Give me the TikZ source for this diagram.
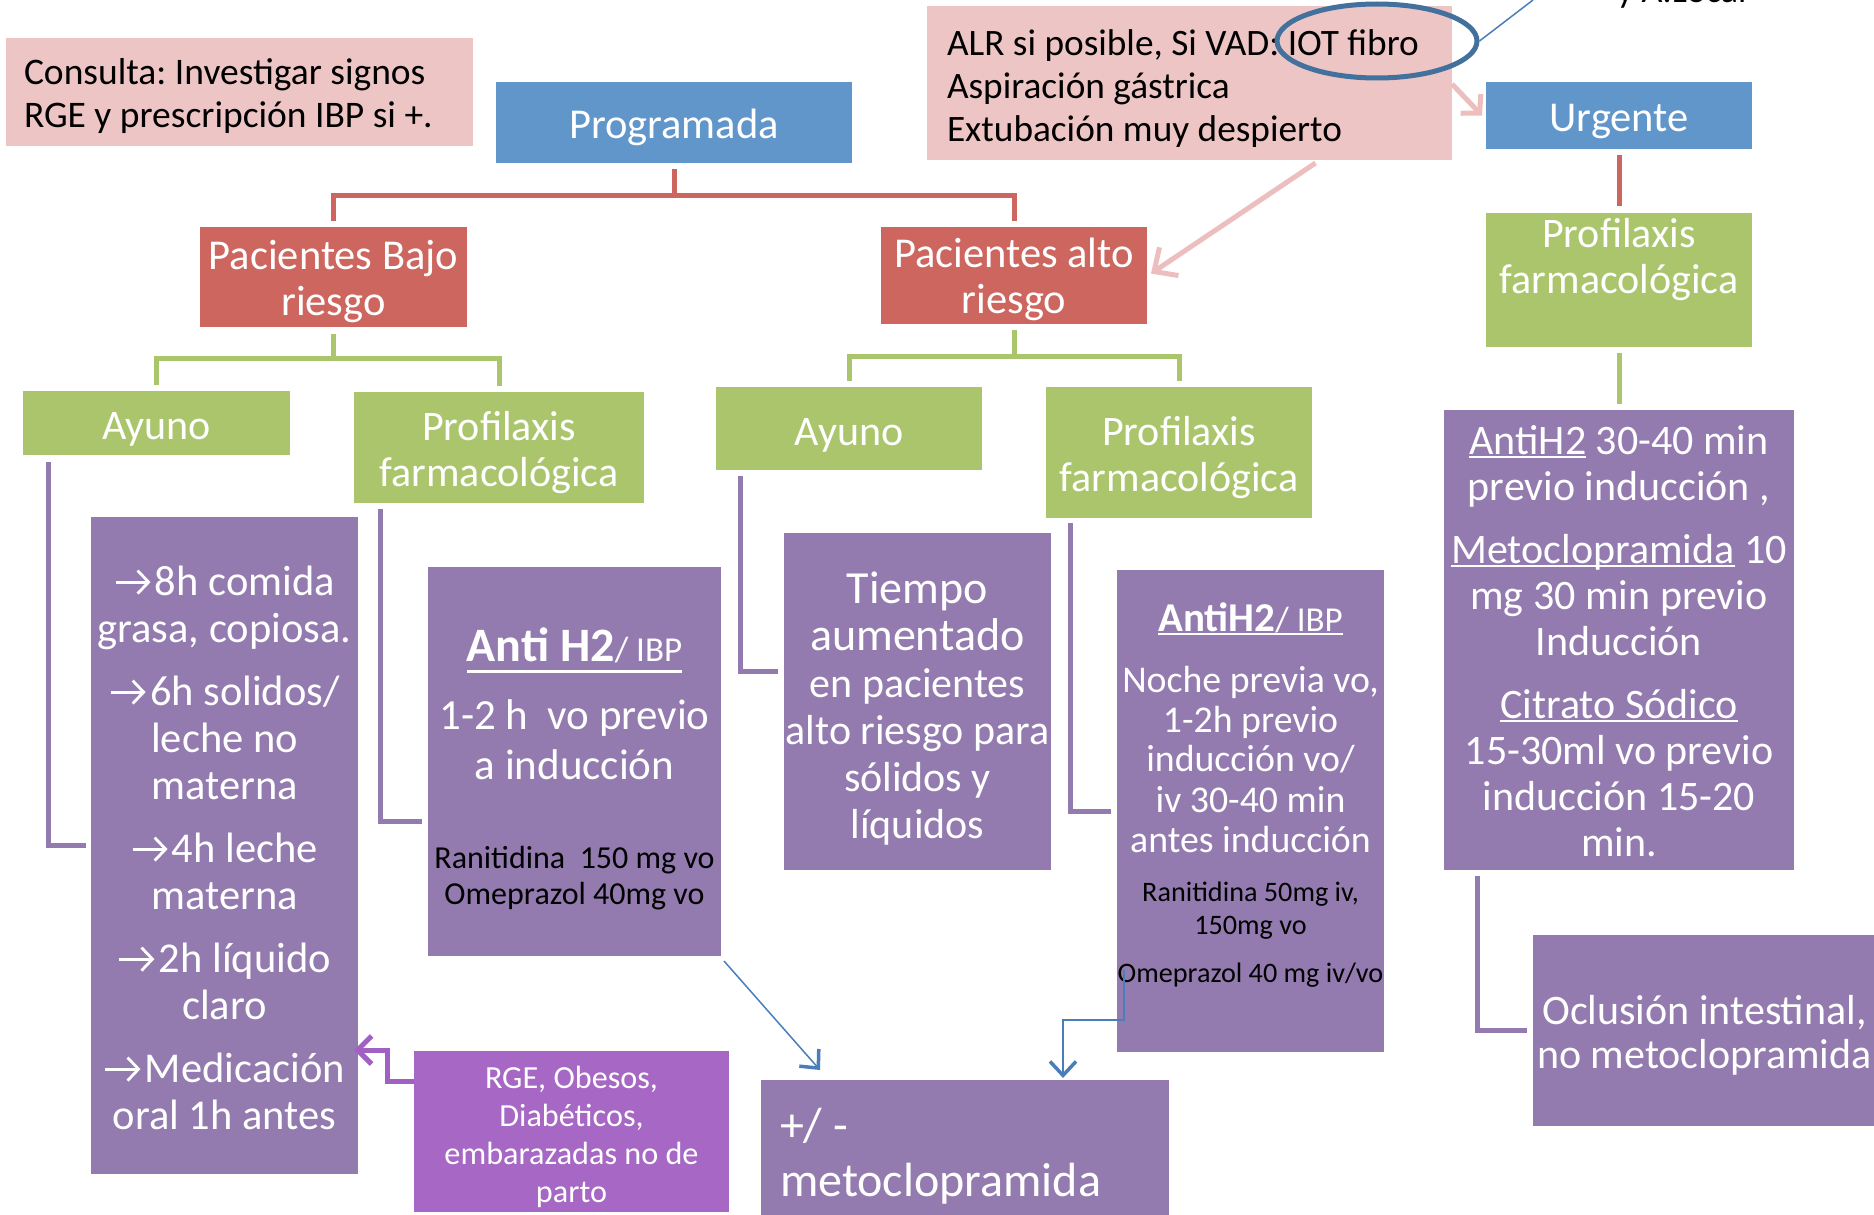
\documentclass[tikz,border=0pt]{standalone}
\usepackage{fontspec}
\setmainfont{Carlito}
\usetikzlibrary{arrows.meta,shapes.geometric}
\definecolor{cblue}{RGB}{97,150,203}
\definecolor{cred}{RGB}{205,102,95}
\definecolor{cgreen}{RGB}{171,197,109}
\definecolor{cpurple}{RGB}{147,123,176}
\definecolor{cviolet}{RGB}{166,104,196}
\definecolor{cpink}{RGB}{237,197,196}
\definecolor{cpinkarrow}{RGB}{236,190,190}
\definecolor{cellipse}{RGB}{65,113,156}
\definecolor{cbline}{RGB}{74,126,187}
\definecolor{cparrow}{RGB}{160,96,196}
\newcommand\fs[2]{\fontsize{#1pt}{#2pt}\selectfont\lineskiplimit=-1000pt\relax}
\newcommand\myul[2][4pt]{\leavevmode\begingroup\sbox0{#2}\rlap{\rule[-#1]{\wd0}{2.2pt}}\usebox0\endgroup}
\newcommand\arr{\leavevmode\tikz[baseline=0pt,x=1pt,y=1pt]\draw[draw=white, line width=2.8pt, -{Straight Barb[length=11pt,width=23pt,line width=2.8pt]}] (0,13) -- (35,13);\hspace{3pt}}
\tikzset{
  box/.style={rectangle, inner sep=0pt, outer sep=0pt},
  txt/.style={inner sep=0pt, outer sep=0pt, text=white, align=flush center},
  rline/.style={draw=cred, line width=5pt},
  gline/.style={draw=cgreen, line width=5pt},
  pline/.style={draw=cpurple, line width=5pt},
  bline/.style={draw=cbline, line width=1.5pt, -{Straight Barb[length=14pt,width=26pt,line width=3.5pt]}},
  pkarrow/.style={draw=cpinkarrow, line width=5pt, -{Straight Barb[length=18pt,width=34pt]}},
  pkarrowsmall/.style={draw=cpinkarrow, line width=5pt, -{Straight Barb[length=13pt,width=28pt]}},
  parrow/.style={draw=cparrow, line width=5pt, -{Straight Barb[length=14pt,width=28pt]}}
}
\begin{document}
\frenchspacing
\begin{tikzpicture}[x=1pt,y=-1pt]
\useasboundingbox (0,0) rectangle (1874,1215);
\clip (0,0) rectangle (1874,1215);
\fill[white] (0,0) rectangle (1874,1215);

% ---------- boxes ----------
\node[box, fill=cpink, minimum width=467pt, minimum height=108pt] (cons) at (239.5,92) {};
\node[box, fill=cblue, minimum width=356pt, minimum height=81pt] (prog) at (674,122.5) {};
\node[box, fill=cblue, minimum width=266pt, minimum height=67pt] (urg) at (1619,115.5) {};
\node[box, fill=cpink, minimum width=525pt, minimum height=154pt] (alr) at (1189.5,83) {};
\node[box, fill=cred, minimum width=267pt, minimum height=100pt] (bajo) at (333.5,277) {};
\node[box, fill=cred, minimum width=266pt, minimum height=97pt] (alto) at (1014,275.5) {};
\node[box, fill=cgreen, minimum width=266pt, minimum height=134pt] (profR) at (1619,280) {};
\node[box, fill=cgreen, minimum width=267pt, minimum height=64pt] (ayunoL) at (156.5,423) {};
\node[box, fill=cgreen, minimum width=290pt, minimum height=111pt] (profL) at (499,447.5) {};
\node[box, fill=cgreen, minimum width=266pt, minimum height=83pt] (ayunoM) at (849,428.5) {};
\node[box, fill=cgreen, minimum width=266pt, minimum height=131pt] (profM) at (1179,452.5) {};
\node[box, fill=cpurple, minimum width=267pt, minimum height=657pt] (lbox) at (224.5,845.5) {};
\node[box, fill=cpurple, minimum width=293pt, minimum height=389pt] (antiL) at (574.5,761.5) {};
\node[box, fill=cpurple, minimum width=267pt, minimum height=337pt] (tiempo) at (917.5,701.5) {};
\node[box, fill=cpurple, minimum width=267pt, minimum height=482pt] (antiM) at (1250.5,811) {};
\node[box, fill=cpurple, minimum width=350pt, minimum height=460pt] (rbox) at (1619,640) {};
\node[box, fill=cpurple, minimum width=343pt, minimum height=191pt] (ocl) at (1704.5,1030.5) {};
\node[box, fill=cpurple, minimum width=408pt, minimum height=145pt] (meto) at (965,1152.5) {};
\node[box, fill=cviolet, minimum width=315pt, minimum height=161pt] (rge) at (571.5,1131.5) {};

% ---------- texts ----------
\node[txt, text=black, text width=431pt, align=flush left, font=\fs{37.5}{43}] (cons-t) at ([yshift=-4pt]cons.center) {Consulta: Investigar signos\\RGE y prescripción IBP si +.};
\node[txt, font=\fs{42.5}{47}] (prog-t) at ([yshift=-5pt]prog.center) {Programada};
\node[txt, font=\fs{42.5}{47}] (urg-t) at ([yshift=-6pt]urg.center) {Urgente};
\node[txt, text=black, text width=485pt, align=flush left, font=\fs{37.3}{43}] (alr-t) at ([yshift=-6pt]alr.center) {ALR si posible, Si VAD: IOT fibro\\Aspiración gástrica\\Extubación muy despierto};
\node[ellipse, draw=cellipse, line width=5pt, minimum width=200pt, minimum height=74pt, inner sep=0pt] (ell) at (1377,41) {};
\coordinate (topc) at (1533,0);
\node[anchor=base west, inner sep=0pt, font=\fs{36}{43}] (cut) at (1617,3) {y A.Local};

\node[txt, font=\fs{42.5}{46}] (bajo-t) at ([yshift=-5pt]bajo.center) {Pacientes Bajo\\riesgo};
\node[txt, font=\fs{42.5}{46}] (alto-t) at ([yshift=-4pt]alto.center) {Pacientes alto\\riesgo};
\node[txt, font=\fs{42}{46}] (profR-t) at ([yshift=20pt]profR.center) {Profilaxis\\farmacológica};

\node[txt, font=\fs{42}{46}] (ayunoL-t) at ([yshift=-6pt]ayunoL.center) {Ayuno};
\node[txt, font=\fs{42}{46}] (profL-t) at ([yshift=-5pt]profL.center) {Profilaxis\\farmacológica};
\node[txt, font=\fs{42}{46}] (ayunoM-t) at ([yshift=-7pt]ayunoM.center) {Ayuno};
\node[txt, font=\fs{42}{46}] (profM-t) at ([yshift=-5pt]profM.center) {Profilaxis\\farmacológica};

\node[txt, text width=280pt, font=\fs{42.5}{47}] (lbox-t) at ([yshift=-2pt]lbox.center)
  {\arr 8h comida\\grasa, copiosa.\\[16pt]
   \arr 6h solidos/\\leche no\\materna\\[16pt]
   \arr 4h leche\\materna\\[16pt]
   \arr 2h líquido\\claro\\[16pt]
   \arr Medicación\\oral 1h antes};

\node[txt, text width=300pt, font=\fs{43}{36}] (antiL-t) at ([yshift=-7.5pt]antiL.center)
  {\myul[11pt]{{\bfseries\fontsize{48pt}{36pt}\selectfont Anti H2}{\fontsize{35pt}{36pt}\selectfont/ IBP}}\\[32pt]
   1-2 h\ \ vo previo\\[14pt]
   a inducción\\[53pt]
   {\color{black}\fontsize{32pt}{36pt}\selectfont Ranitidina\ \ 150 mg vo}\\
   {\color{black}\fontsize{32pt}{36pt}\selectfont Omeprazol 40mg vo}};

\node[txt, text width=290pt, font=\fs{42}{47}] (tiempo-t) at ([yshift=-7.5pt]tiempo.center)
  {{\fontsize{46pt}{47pt}\selectfont Tiempo}\\
   {\fontsize{46pt}{47pt}\selectfont aumentado}\\
   en pacientes\\alto riesgo para\\sólidos y\\líquidos};

\node[txt, text width=295pt, font=\fs{37.8}{33}] (antiM-t) at ([yshift=16pt]antiM.center)
  {\myul{{\bfseries\fontsize{41pt}{33pt}\selectfont AntiH2}{\fontsize{35pt}{33pt}\selectfont/ IBP}}\\[28pt]
   Noche previa vo,\\[7pt]
   1-2h previo\\[6pt]
   inducción vo/\\[8pt]
   iv 30-40 min\\[7pt]
   antes inducción\\[16pt]
   {\color{black}\fontsize{28.2pt}{33pt}\selectfont Ranitidina 50mg iv,}\\
   {\color{black}\fontsize{28.2pt}{33pt}\selectfont 150mg vo}\\[15pt]
   {\color{black}\fontsize{28.2pt}{33pt}\selectfont Omeprazol 40 mg iv/vo}};

\node[txt, text width=360pt, font=\fs{42}{46}] (rbox-t) at ([yshift=-1pt]rbox.center)
  {\myul{AntiH2} 30-40 min\\previo inducción ,\\[17pt]
   \myul{Metoclopramida} 10\\mg 30 min previo\\Inducción\\[17pt]
   \myul{Citrato Sódico}\\15-30ml vo previo\\inducción 15-20\\min.};

\node[txt, text width=360pt, font=\fs{42}{44}] (ocl-t) at ([yshift=-5pt]ocl.center) {Oclusión intestinal,\\no metoclopramida};

\node[txt, text width=370pt, align=flush left, font=\fs{48}{55}] (meto-t) at ([yshift=-4pt]meto.center) {+/ -\\metoclopramida};

\node[txt, text width=330pt, font=\fs{32.2}{38}] (rge-t) at ([yshift=-5pt]rge.center) {RGE, Obesos,\\Diabéticos,\\embarazadas no de\\parto};

% ---------- connectors ----------
\draw[cbline, line width=1.5pt] (ell.east) -- (topc);

\draw[rline] ([yshift=-6pt]prog.south) -- ++(0,26) coordinate (rj);
\draw[rline] ([yshift=6pt]bajo.north) |- (rj) -| ([yshift=6pt]alto.north);
\draw[rline] ([yshift=-6pt]urg.south) -- ([yshift=7pt]profR.north);

\draw[gline] ([yshift=-7pt]bajo.south) -- ++(0,24) coordinate (gj1);
\draw[gline] ([yshift=6pt]ayunoL.north) |- (gj1) -| ([yshift=6pt]profL.north);
\draw[gline] ([yshift=-6pt]alto.south) -- ++(0,26) coordinate (gj2);
\draw[gline] ([yshift=6pt]ayunoM.north) |- (gj2) -| ([yshift=6pt]profM.north);
\draw[gline] ([yshift=-6pt]profR.south) -- ([yshift=6pt]rbox.north);

\draw[pline] ([shift={(25pt,-7pt)}]ayunoL.south west) |- ([xshift=-5pt]lbox.west);
\draw[pline] ([shift={(26pt,-6pt)}]profL.south west) |- ([shift={(-6pt,-60pt)}]antiL.west);
\draw[pline] ([shift={(24pt,-6pt)}]ayunoM.south west) |- ([shift={(-6pt,30pt)}]tiempo.west);
\draw[pline] ([shift={(24pt,-5pt)}]profM.south west) |- ([xshift=-6pt]antiM.west);
\draw[pline] ([shift={(33pt,-6pt)}]rbox.south west) |- ([xshift=-6pt]ocl.west);

\draw[bline] ([shift={(3pt,-5pt)}]antiL.south east) -- ([shift={(59pt,10pt)}]meto.north west);
\draw[bline] ([shift={(7pt,82pt)}]antiM.south west) -- ++(0,50) -| ([shift={(302pt,2pt)}]meto.north west);

\draw[pkarrow] ([xshift=126pt,yshift=-3pt]alr.south) -- ([xshift=4pt,yshift=2pt]alto.east);
\draw[pkarrowsmall] ([yshift=-1pt]alr.east) -- ([xshift=-4pt]urg.west);

\draw[parrow] ([yshift=50pt]rge.west) -- ++(-27,0) |- ([shift={(-4pt,124pt)}]lbox.south east);
\end{tikzpicture}
\end{document}
